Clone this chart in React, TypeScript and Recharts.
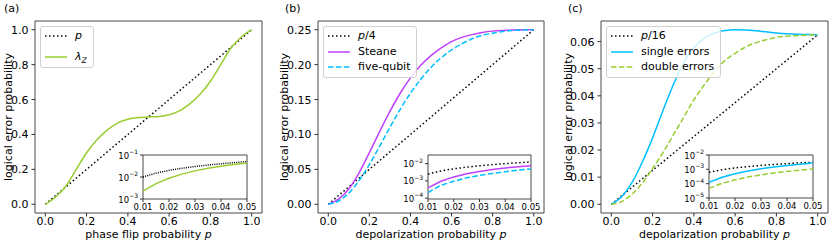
import { LineChart, Line, XAxis, YAxis, ReferenceArea } from 'recharts'
import type { ReactNode } from 'react'

// main panels: probability grid
const P_MAIN = [0, 0.05, 0.1, 0.15, 0.2, 0.25, 0.3, 0.35, 0.4, 0.45, 0.5, 0.55, 0.6, 0.65, 0.7, 0.75, 0.8, 0.85, 0.9, 0.95, 1]
const A_REF = [0, 0.05, 0.1, 0.15, 0.2, 0.25, 0.3, 0.35, 0.4, 0.45, 0.5, 0.55, 0.6, 0.65, 0.7, 0.75, 0.8, 0.85, 0.9, 0.95, 1]
const A_LAMBDA_Z = [0, 0.042, 0.105, 0.2, 0.295, 0.37, 0.425, 0.465, 0.487, 0.497, 0.5, 0.503, 0.513, 0.535, 0.575, 0.63, 0.705, 0.8, 0.895, 0.958, 1]
const B_REF = [0, 0.0125, 0.025, 0.0375, 0.05, 0.0625, 0.075, 0.0875, 0.1, 0.1125, 0.125, 0.1375, 0.15, 0.1625, 0.175, 0.1875, 0.2, 0.2125, 0.225, 0.2375, 0.25]
const B_STEANE = [0, 0.0075, 0.022, 0.045, 0.074, 0.104, 0.133, 0.159, 0.181, 0.199, 0.213, 0.224, 0.233, 0.239, 0.243, 0.246, 0.248, 0.249, 0.2496, 0.2499, 0.25]
const B_FIVE = [0, 0.0047, 0.016, 0.034, 0.057, 0.083, 0.11, 0.136, 0.159, 0.179, 0.196, 0.21, 0.221, 0.23, 0.237, 0.242, 0.245, 0.2475, 0.249, 0.2497, 0.25]
const C_REF = [0, 0.003125, 0.00625, 0.009375, 0.0125, 0.015625, 0.01875, 0.021875, 0.025, 0.028125, 0.03125, 0.034375, 0.0375, 0.040625, 0.04375, 0.046875, 0.05, 0.053125, 0.05625, 0.059375, 0.0625]
const C_SINGLE = [0, 0.0028, 0.008, 0.0155, 0.0245, 0.0345, 0.044, 0.052, 0.0578, 0.0612, 0.0632, 0.0641, 0.0644, 0.0643, 0.064, 0.0636, 0.0632, 0.0629, 0.0627, 0.0626, 0.0625]
const C_DOUBLE = [0, 0.001, 0.0037, 0.0078, 0.0132, 0.019, 0.0255, 0.032, 0.0385, 0.044, 0.049, 0.053, 0.0557, 0.058, 0.0596, 0.0607, 0.0615, 0.062, 0.0622, 0.0624, 0.0625]

// insets: small-p region on log scale
const P_INSET = [0.01, 0.015, 0.02, 0.025, 0.03, 0.035, 0.04, 0.045, 0.05]
const A_IN_REF = [0.01, 0.015, 0.02, 0.025, 0.03, 0.035, 0.04, 0.045, 0.05]
const A_IN_LAMBDA_Z = [0.0023, 0.005, 0.0088, 0.0135, 0.019, 0.025, 0.031, 0.037, 0.043]
const B_IN_REF = [0.0025, 0.00375, 0.005, 0.00625, 0.0075, 0.00875, 0.01, 0.01125, 0.0125]
const B_IN_STEANE = [0.00039, 0.00095, 0.0017, 0.0026, 0.0035, 0.0045, 0.0056, 0.0066, 0.0076]
const B_IN_FIVE = [0.00021, 0.00055, 0.00095, 0.0015, 0.0021, 0.0027, 0.0034, 0.0042, 0.0049]
const C_IN_REF = [0.000625, 0.0009375, 0.00125, 0.0015625, 0.001875, 0.0021875, 0.0025, 0.0028125, 0.003125]
const C_IN_SINGLE = [0.000125, 0.00028, 0.00049, 0.00076, 0.0011, 0.00145, 0.00185, 0.0023, 0.0028]
const C_IN_DOUBLE = [0.000047, 0.000105, 0.000185, 0.00029, 0.00041, 0.00056, 0.00072, 0.00088, 0.00105]

const X_TICKS = [0, 0.2, 0.4, 0.6, 0.8, 1]
const A_Y_TICKS = [0, 0.2, 0.4, 0.6, 0.8, 1]
const B_Y_TICKS = [0, 0.05, 0.1, 0.15, 0.2, 0.25]
const C_Y_TICKS = [0, 0.01, 0.02, 0.03, 0.04, 0.05, 0.06]
const IN_X_TICKS = [0.01, 0.02, 0.03, 0.04, 0.05]
const A_IN_Y_TICKS = [1e-3, 1e-2, 1e-1]
const B_IN_Y_TICKS = [1e-4, 1e-3, 1e-2]
const C_IN_Y_TICKS = [1e-5, 1e-4, 1e-3, 1e-2]

const W = 830
const H = 242
const FONT = '"DejaVu Sans", sans-serif'
const FS = 11
const FRAME = '#333'
const FRAME_TOP = 21
const FRAME_BOTTOM = 213
const X_DOMAIN: [number, number] = [-0.05, 1.05]
const GREEN = '#9acd32'
const PURPLE = '#bf40ff'
const CYAN = '#00bfff'
const DOT = '1.5 2.5'
const DASH = '5.5 2.4'

type Series = { key: string; color: string; dash?: string; values: number[] }

function buildRows(xs: number[], series: Series[]) {
  return xs.map((p, i) => {
    const row: Record<string, number> = { p }
    series.forEach((s) => (row[s.key] = s.values[i]))
    return row
  })
}

const Ital = ({ children }: { children: ReactNode }) => <tspan fontStyle="italic">{children}</tspan>

// x tick text: dy puts the baseline below the anchor point
function XTick({ x, y, payload, digits, size, dy }: any) {
  return (
    <text x={x} y={y} dy={dy} textAnchor="middle" fontSize={size} fontFamily={FONT} fill="#000">
      {payload.value.toFixed(digits)}
    </text>
  )
}

function YTick({ x, y, payload, digits }: any) {
  return (
    <text x={x} y={y} dy={FS * 0.36} textAnchor="end" fontSize={FS} fontFamily={FONT} fill="#000">
      {payload.value.toFixed(digits)}
    </text>
  )
}

function LogTick({ x, y, payload }: any) {
  const e = Math.round(Math.log10(payload.value))
  return (
    <text x={x} y={y} dy={3.5} textAnchor="end" fontSize={8.5} fontFamily={FONT} fill="#000">
      <tspan>10</tspan>
      <tspan fontSize={6} dy={-4.5}>{'\u2212' + Math.abs(e)}</tspan>
    </text>
  )
}

type MainProps = {
  frameLeft: number
  frameRight: number
  series: Series[]
  yDomain: [number, number]
  yTicks: number[]
  digits: number
  xLabel: string
  letter: string
  letterX: number
  yLabelX: number
}

function MainPanel({ frameLeft, frameRight, series, yDomain, yTicks, digits, xLabel, letter, letterX, yLabelX }: MainProps) {
  const axisW = 50
  const left = frameLeft - axisW
  const width = frameRight - left + 14
  const rows = buildRows(P_MAIN, series)
  const midX = (frameLeft + frameRight) / 2 - left
  return (
    <div style={{ position: 'absolute', left, top: 0 }}>
      <LineChart width={width} height={H} data={rows} margin={{ top: FRAME_TOP, right: 14, bottom: 0, left: 0 }}>
        <ReferenceArea x1={X_DOMAIN[0]} x2={X_DOMAIN[1]} y1={yDomain[0]} y2={yDomain[1]} fill="none" stroke={FRAME} strokeWidth={0.9} />
        <XAxis
          dataKey="p"
          type="number"
          domain={X_DOMAIN}
          ticks={X_TICKS}
          interval={0}
          allowDataOverflow
          height={H - FRAME_BOTTOM}
          axisLine={false}
          tickSize={3.5}
          tickMargin={2}
          stroke={FRAME}
          tick={(t: any) => <XTick {...t} digits={1} size={FS} dy={6.5} />}
          label={() => (
            <text x={midX} y={FRAME_BOTTOM + 24.5} textAnchor="middle" fontSize={FS} fontFamily={FONT} fill="#000">
              {xLabel} <Ital>p</Ital>
            </text>
          )}
        />
        <YAxis
          type="number"
          domain={yDomain}
          ticks={yTicks}
          interval={0}
          allowDataOverflow
          width={axisW}
          axisLine={false}
          tickSize={3.5}
          tickMargin={3}
          stroke={FRAME}
          tick={(t: any) => <YTick {...t} digits={digits} />}
          label={() => {
            const cx = yLabelX - left
            const cy = (FRAME_TOP + FRAME_BOTTOM) / 2
            return (
              <g>
                <text x={cx} y={cy} dy={FS * 0.36} transform={`rotate(-90 ${cx} ${cy})`} textAnchor="middle" fontSize={FS} fontFamily={FONT} fill="#000">
                  logical error probability
                </text>
                <text x={letterX - left} y={8.5} dy={FS * 0.36} fontSize={FS} fontFamily={FONT} fill="#000">
                  {letter}
                </text>
              </g>
            )
          }}
        />
        {series.map((s) => (
          <Line
            key={s.key}
            dataKey={s.key}
            type="monotone"
            stroke={s.color}
            strokeWidth={1.5}
            strokeDasharray={s.dash}
            dot={false}
            activeDot={false}
            isAnimationActive={false}
          />
        ))}
      </LineChart>
    </div>
  )
}

type InsetProps = {
  box: [number, number, number, number]
  series: Series[]
  yDomain: [number, number]
  yTicks: number[]
}

function Inset({ box, series, yDomain, yTicks }: InsetProps) {
  const [x0, x1, y0, y1] = box
  const axisW = 30
  const top = 9
  const right = 12
  const xAxisH = 14
  const rows = buildRows(P_INSET, series)
  return (
    <div style={{ position: 'absolute', left: x0 - axisW, top: y0 - top }}>
      <LineChart width={axisW + (x1 - x0) + right} height={top + (y1 - y0) + xAxisH} data={rows} margin={{ top, right, bottom: 0, left: 0 }}>
        <ReferenceArea x1={0.01} x2={0.05} y1={yDomain[0]} y2={yDomain[1]} fill="#fff" fillOpacity={1} stroke={FRAME} strokeWidth={0.9} />
        <XAxis
          dataKey="p"
          type="number"
          domain={[0.01, 0.05]}
          ticks={IN_X_TICKS}
          interval={0}
          allowDataOverflow
          height={xAxisH}
          axisLine={false}
          tickSize={3}
          tickMargin={1.5}
          stroke={FRAME}
          tick={(t: any) => <XTick {...t} digits={2} size={8.5} dy={6.5} />}
        />
        <YAxis
          type="number"
          scale="log"
          domain={yDomain}
          ticks={yTicks}
          interval={0}
          allowDataOverflow
          width={axisW}
          axisLine={false}
          tickSize={3}
          tickMargin={2}
          stroke={FRAME}
          tick={(t: any) => <LogTick {...t} />}
        />
        {series.map((s) => (
          <Line
            key={s.key}
            dataKey={s.key}
            type="linear"
            stroke={s.color}
            strokeWidth={1.5}
            strokeDasharray={s.dash}
            dot={false}
            activeDot={false}
            isAnimationActive={false}
          />
        ))}
      </LineChart>
    </div>
  )
}

type LegendItem = { label: ReactNode; color: string; dash?: string; gap: number }

function LegendBox({ left, top, items }: { left: number; top: number; items: LegendItem[] }) {
  return (
    <div
      style={{
        position: 'absolute',
        left,
        top,
        border: '1px solid #d0d0d0',
        borderRadius: 3,
        background: 'rgba(255,255,255,0.8)',
        padding: '2px 6px 3px 4px',
        fontFamily: FONT,
        fontSize: FS,
        lineHeight: '14px',
        whiteSpace: 'nowrap',
      }}
    >
      {items.map((it, i) => (
        <div key={i} style={{ display: 'flex', alignItems: 'center', height: 14, marginTop: it.gap }}>
          <svg width={22} height={4} style={{ marginRight: 8 }}>
            <line x1={0} x2={22} y1={2} y2={2} stroke={it.color} strokeWidth={1.5} strokeDasharray={it.dash} />
          </svg>
          <span>{it.label}</span>
        </div>
      ))}
    </div>
  )
}

const I = ({ children }: { children: ReactNode }) => <span style={{ fontStyle: 'italic' }}>{children}</span>

export default function App() {
  return (
    <div style={{ position: 'absolute', left: 0, top: 0, width: W, height: H, background: '#fff', overflow: 'hidden', fontFamily: FONT }}>
      <MainPanel
        frameLeft={35}
        frameRight={262}
        series={[
          { key: 'ref', color: '#000', dash: DOT, values: A_REF },
          { key: 'lz', color: GREEN, values: A_LAMBDA_Z },
        ]}
        yDomain={[-0.05, 1.05]}
        yTicks={A_Y_TICKS}
        digits={1}
        xLabel="phase flip probability"
        letter="(a)"
        letterX={4}
        yLabelX={8}
      />
      <MainPanel
        frameLeft={318}
        frameRight={544}
        series={[
          { key: 'ref', color: '#000', dash: DOT, values: B_REF },
          { key: 'steane', color: PURPLE, values: B_STEANE },
          { key: 'five', color: CYAN, dash: DASH, values: B_FIVE },
        ]}
        yDomain={[-0.0125, 0.2625]}
        yTicks={B_Y_TICKS}
        digits={2}
        xLabel="depolarization probability"
        letter="(b)"
        letterX={285}
        yLabelX={284}
      />
      <MainPanel
        frameLeft={601}
        frameRight={828}
        series={[
          { key: 'ref', color: '#000', dash: DOT, values: C_REF },
          { key: 'single', color: CYAN, values: C_SINGLE },
          { key: 'double', color: GREEN, dash: DASH, values: C_DOUBLE },
        ]}
        yDomain={[-0.00322, 0.0676]}
        yTicks={C_Y_TICKS}
        digits={2}
        xLabel="depolarization probability"
        letter="(c)"
        letterX={568}
        yLabelX={568}
      />
      <Inset
        box={[143, 247, 155, 199]}
        series={[
          { key: 'ref', color: '#000', dash: '1 1.2', values: A_IN_REF },
          { key: 'lz', color: GREEN, values: A_IN_LAMBDA_Z },
        ]}
        yDomain={[1e-3, 1e-1]}
        yTicks={A_IN_Y_TICKS}
      />
      <Inset
        box={[428, 531, 155, 199]}
        series={[
          { key: 'ref', color: '#000', dash: DOT, values: B_IN_REF },
          { key: 'steane', color: PURPLE, values: B_IN_STEANE },
          { key: 'five', color: CYAN, dash: DASH, values: B_IN_FIVE },
        ]}
        yDomain={[8.9e-5, 0.0316]}
        yTicks={B_IN_Y_TICKS}
      />
      <Inset
        box={[709, 813, 155, 198]}
        series={[
          { key: 'ref', color: '#000', dash: DOT, values: C_IN_REF },
          { key: 'single', color: CYAN, values: C_IN_SINGLE },
          { key: 'double', color: GREEN, dash: DASH, values: C_IN_DOUBLE },
        ]}
        yDomain={[1e-5, 1e-2]}
        yTicks={C_IN_Y_TICKS}
      />
      <LegendBox
        left={40}
        top={26}
        items={[
          { label: <I>p</I>, color: '#000', dash: DOT, gap: 0 },
          { label: <I>λ<sub style={{ fontSize: '0.7em', lineHeight: 0 }}>Z</sub></I>, color: GREEN, gap: 7 },
        ]}
      />
      <LegendBox
        left={323}
        top={26}
        items={[
          { label: <><I>p</I>/4</>, color: '#000', dash: DOT, gap: 0 },
          { label: 'Steane', color: PURPLE, gap: 1.5 },
          { label: 'five-qubit', color: CYAN, dash: DASH, gap: 1.5 },
        ]}
      />
      <LegendBox
        left={606}
        top={26}
        items={[
          { label: <><I>p</I>/16</>, color: '#000', dash: DOT, gap: 0 },
          { label: 'single errors', color: CYAN, gap: 1.5 },
          { label: 'double errors', color: GREEN, dash: DASH, gap: 1.5 },
        ]}
      />
    </div>
  )
}
